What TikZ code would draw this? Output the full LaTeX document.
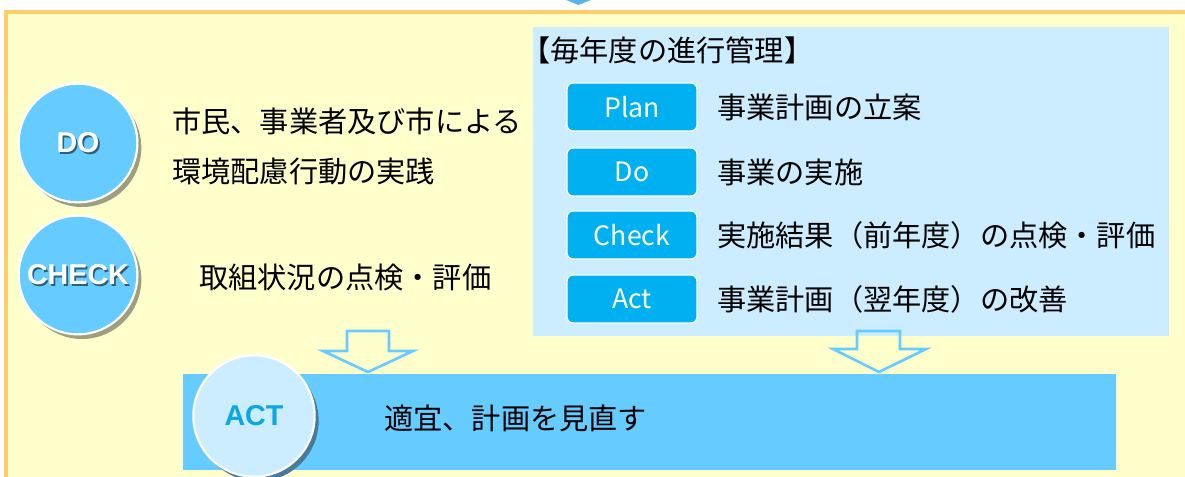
\documentclass[tikz,border=0pt]{standalone}
\usepackage{fontspec}
\setmainfont{Liberation Sans}
\newfontfamily\jp{Noto Sans CJK JP}
\usetikzlibrary{shadows}
\definecolor{bgyellow}{HTML}{FFFFCC}
\definecolor{frameorange}{HTML}{FFCC66}
\definecolor{panelblue}{HTML}{CCECFF}
\definecolor{btnblue}{HTML}{00B0F0}
\definecolor{circblue}{HTML}{66CCFF}
\definecolor{barblue}{HTML}{66CCFF}
\definecolor{actcirc}{HTML}{CCECFF}
\definecolor{olivesh}{HTML}{9E9E80}
\definecolor{bluesh}{HTML}{4A7A9A}
\definecolor{actblue}{HTML}{0AA6E6}
\definecolor{tipblue}{HTML}{5AB4EC}
\definecolor{txtsh}{HTML}{2A5F80}
\tikzset{
  jptext/.style={anchor=west, inner sep=0pt, font=\jp\fontsize{21.9}{26}\selectfont, text=black},
  btn/.style={rectangle, rounded corners=4.5pt, fill=btnblue, draw=white, line width=1pt,
    minimum width=97.5pt, minimum height=36pt, inner sep=0pt, text=white,
    font=\jp\fontsize{20}{24}\selectfont},
  circ/.style={circle, fill=circblue, draw=white, line width=1.6pt, minimum size=89pt, inner sep=0pt,
    drop shadow={fill=olivesh, opacity=1, shadow xshift=3pt, shadow yshift=-3.5pt}},
  actc/.style={circle, fill=actcirc, draw=white, line width=1.6pt, minimum size=91pt, inner sep=0pt,
    drop shadow={fill=bluesh, opacity=1, shadow xshift=3pt, shadow yshift=-3.5pt}},
  lbl/.style={inner sep=0pt, text=white, font=\bfseries\fontsize{21.5}{24}\selectfont},
  lblsh/.style={inner sep=0pt, text=txtsh, font=\bfseries\fontsize{21.5}{24}\selectfont},
  hollow/.style={draw=circblue, line width=2pt, line join=miter},
  bar/.style={rectangle, fill=barblue, minimum width=699.75pt, minimum height=72pt, inner sep=0pt}
}
\begin{document}
\begin{tikzpicture}[x=0.75pt,y=-0.75pt]
\useasboundingbox (0,0) rectangle (1185,477);
\clip (0,0) rectangle (1185,477);
\fill[white] (0,0) rectangle (1185,477);
% outer frame
\filldraw[fill=bgyellow, draw=frameorange, line width=2.4pt] (6,12) rectangle (1200,495);
% small arrow tip at top
\fill[tipblue] (566,0) -- (591,0) -- (578.5,5) -- cycle;
% panel
\node[rectangle, fill=panelblue, minimum width=477pt, minimum height=231.75pt, inner sep=0pt, anchor=north west] (panel) at (533,27) {};
\node[jptext] (title) at (521,50) {【毎年度の進行管理】};
% buttons
\node[btn] (plan) at (632,107) {Plan};
\node[btn] (do2) at (632,172) {Do};
\node[btn] (check2) at (632,235) {Check};
\node[btn] (act2) at (632,299) {Act};
\node[jptext] (plant) at (717,107) {事業計画の立案};
\node[jptext] (dot) at (717,172) {事業の実施};
\node[jptext] (checkt) at (717,235) {実施結果（前年度）の点検・評価};
\node[jptext] (actt) at (717,299) {事業計画（翌年度）の改善};
% DO / CHECK circles
\node[circ] (do) at (78,143) {};
\node[lblsh] at ([shift={(1.6,1.8)}]do.center) {DO};
\node[lbl] (dol) at (do.center) {DO};
\node[circ] (check) at (78,275) {};
\node[lblsh] at ([shift={(1.6,1.8)}]check.center) {CHECK};
\node[lbl] (checkl) at (check.center) {CHECK};
\node[jptext] (dotext1) at (172,121) {市民、事業者及び市による};
\node[jptext] (dotext2) at (172,171) {環境配慮行動の実践};
\node[jptext] (checktext) at (199,277) {取組状況の点検・評価};
% hollow arrows
\draw[hollow] (347,331) -- (389,331) -- (389,351) -- (413,351) -- (368,372) -- (323,351) -- (347,351) -- cycle;
\draw[hollow] (857,331) -- (900,331) -- (900,349) -- (926,349) -- (879,372) -- (833,349) -- (857,349) -- cycle;
% ACT bar
\node[bar, anchor=north west] (actbar) at (183,374) {};
\node[actc] (act) at (254,416) {};
\node[inner sep=0pt, text=actblue, font=\bfseries\fontsize{21.5}{24}\selectfont] (actl) at (act.center) {ACT};
\node[jptext] (acttext) at (384,418) {適宜、計画を見直す};
\end{tikzpicture}
\end{document}
